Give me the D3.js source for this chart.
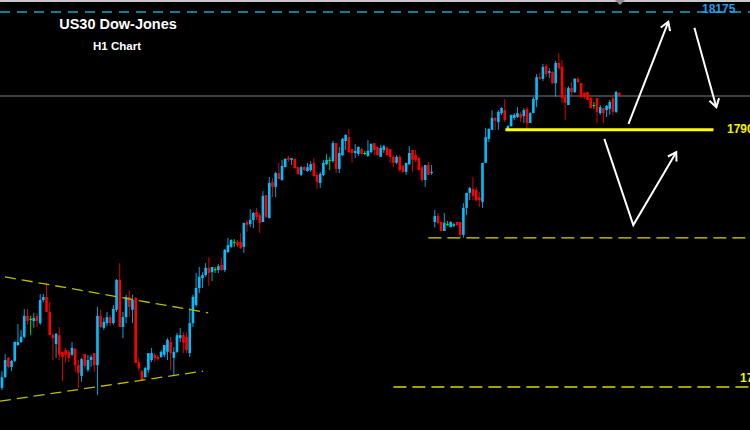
<!DOCTYPE html>
<html>
<head>
<meta charset="utf-8">
<script src="https://cdn.jsdelivr.net/npm/d3@7"></script>
<style>
  html, body { margin: 0; padding: 0; background: #000; overflow: hidden; }
  svg { display: block; }
</style>
</head>
<body>
<svg id="chart" width="750" height="430"></svg>
<script>
// US30 hourly candles (oldest first)
const opens = [
  17298,17323,17368,17347,17361,17398,17405,17417,17466,17459,
  17454,17466,17449,17503,17510,17475,17421,17400,17421,17382,
  17386,17382,17375,17389,17351,17326,17377,17340,17363,17379,
  17351,17466,17438,17449,17463,17449,17480,17550,17440,17463,
  17510,17480,17508,17358,17337,17323,17340,17363,17375,17370,
  17370,17375,17382,17405,17368,17382,17414,17421,17417,17379,
  17449,17491,17531,17554,17561,17578,17568,17575,17573,17585,
  17573,17615,17627,17638,17638,17638,17627,17685,17680,17690,
  17708,17701,17685,17748,17694,17778,17767,17799,17783,17813,
  17834,17830,17832,17813,17795,17813,17804,17806,17823,17795,
  17776,17795,17820,17830,17827,17869,17809,17841,17874,17883,
  17855,17846,17844,17855,17846,17839,17848,17869,17860,17837,
  17853,17858,17855,17837,17823,17837,17816,17802,17820,17853,
  17841,17834,17813,17783,17818,17799,17685,17699,17685,17664,
  17680,17673,17676,17685,17685,17655,17718,17753,17762,17760,
  17743,17732,17823,17879,17900,17928,17918,17939,17946,17900,
  17909,17928,17930,17937,17932,17949,17916,17939,17970,18023,
  18019,18049,18033,18035,18009,18056,18047,17977,17958,17998,
  17988,18019,18009,17986,17988,17974,17958,17974,17939,17951,
  17946,17949,17974,17942,17986
];
const highs = [
  17337,17377,17370,17363,17407,17447,17433,17482,17482,17466,
  17473,17473,17517,17517,17543,17498,17426,17426,17440,17382,
  17391,17386,17405,17391,17363,17368,17377,17375,17375,17379,
  17487,17480,17461,17475,17468,17491,17552,17589,17475,17515,
  17526,17515,17510,17368,17340,17347,17379,17391,17379,17375,
  17386,17398,17414,17417,17393,17426,17438,17428,17428,17484,
  17515,17566,17580,17568,17589,17603,17580,17580,17587,17601,
  17622,17648,17645,17645,17643,17659,17683,17690,17715,17708,
  17718,17706,17757,17748,17790,17788,17802,17823,17830,17834,
  17839,17834,17834,17813,17816,17816,17823,17827,17834,17802,
  17802,17830,17844,17837,17874,17869,17860,17881,17890,17902,
  17855,17867,17862,17858,17851,17876,17869,17869,17860,17865,
  17865,17862,17855,17841,17841,17841,17818,17823,17862,17853,
  17853,17837,17818,17818,17825,17818,17713,17706,17685,17706,
  17687,17687,17683,17685,17685,17729,17753,17767,17790,17767,
  17755,17823,17904,17904,17946,17930,17946,17953,17972,17911,
  17935,17939,17953,17942,17951,17953,17942,17977,18030,18033,
  18054,18054,18044,18037,18061,18079,18063,18000,18002,18012,
  18021,18023,18009,17988,17988,17977,17965,17974,17958,17951,
  17958,17970,17981,17991,17988
];
const lows = [
  17293,17321,17344,17337,17358,17396,17403,17414,17445,17421,
  17438,17440,17445,17498,17475,17421,17363,17368,17363,17314,
  17358,17358,17372,17335,17298,17312,17344,17335,17347,17335,
  17281,17438,17433,17442,17442,17445,17475,17440,17414,17449,
  17463,17449,17356,17337,17314,17321,17333,17358,17358,17363,
  17368,17370,17363,17340,17328,17379,17405,17379,17379,17370,
  17440,17487,17519,17531,17557,17536,17547,17566,17566,17571,
  17568,17613,17624,17627,17627,17622,17613,17662,17673,17671,
  17690,17659,17685,17694,17694,17743,17743,17785,17781,17813,
  17825,17818,17809,17795,17792,17804,17802,17802,17792,17762,
  17764,17792,17818,17806,17823,17799,17799,17839,17853,17846,
  17823,17834,17839,17841,17841,17837,17846,17841,17839,17837,
  17846,17841,17823,17813,17820,17802,17799,17795,17818,17802,
  17825,17806,17778,17767,17795,17795,17673,17680,17664,17664,
  17676,17673,17673,17676,17650,17648,17701,17736,17736,17732,
  17720,17718,17823,17872,17900,17900,17900,17935,17918,17897,
  17907,17923,17928,17918,17916,17900,17916,17939,17953,18016,
  18014,18023,18021,18007,17977,18040,17963,17923,17958,17977,
  17986,18009,17974,17972,17970,17949,17949,17916,17935,17916,
  17930,17935,17935,17939,17977
];
const closes = [
  17323,17363,17347,17361,17405,17405,17417,17466,17454,17459,
  17461,17454,17503,17510,17475,17421,17414,17424,17375,17370,
  17375,17368,17391,17351,17333,17365,17349,17363,17370,17351,
  17466,17440,17452,17463,17449,17482,17550,17440,17463,17510,
  17487,17503,17356,17344,17316,17344,17379,17379,17368,17365,
  17382,17398,17410,17379,17382,17421,17421,17403,17386,17449,
  17510,17531,17557,17561,17578,17566,17580,17575,17582,17573,
  17620,17631,17643,17638,17631,17624,17683,17678,17690,17706,
  17697,17683,17746,17697,17776,17767,17799,17785,17816,17832,
  17830,17834,17811,17797,17813,17806,17813,17820,17792,17778,
  17797,17823,17830,17830,17869,17809,17846,17879,17888,17848,
  17846,17851,17860,17844,17846,17851,17867,17853,17841,17858,
  17862,17841,17837,17823,17837,17806,17802,17823,17846,17830,
  17830,17806,17783,17818,17795,17802,17699,17683,17664,17683,
  17680,17685,17680,17678,17655,17718,17753,17764,17746,17736,
  17736,17823,17883,17902,17928,17921,17942,17951,17923,17909,
  17935,17935,17939,17928,17946,17916,17939,17972,18023,18019,
  18047,18030,18037,18009,18056,18044,17974,17963,17998,17988,
  18019,18012,17977,17977,17970,17951,17958,17942,17953,17939,
  17956,17965,17942,17988,17979
];

// Horizontal price levels and their tags
const levelPrices = [18175, 17900, 17648, 17300];
const levelLabels = ["18175", "17900", "", "17300"];
// Bar index where each level begins / ends (null = chart edge)
const levelFromBar = [null, 158.2, 134, 123];
const levelToBar = [null, 223.6, null, null];

// Triangle trend lines, as [bar index, price] anchors
const trendUpper = [[0.94, 17557], [64.8, 17473]];
const trendLower = [[-0.63, 17267], [63.2, 17337]];

// Scenario arrows, as [bar index, price] anchors
const arrowUp = [[196.9, 17914], [209.4, 18152]];
const arrowDown = [[217.6, 18138], [224.5, 17953]];
const arrowDip = [[189.3, 17879], [198.4, 17678], [211.9, 17848]];

const titleText = "US30 Dow-Jones";
const subtitleText = "H1 Chart";

const W = 750, H = 430;
const svg = d3.select("#chart");
const n = opens.length;

const x = d3.scaleLinear().domain([0, n - 1]).range([2, 619.3]);
const y = d3.scaleLinear().domain([17300, 18175]).range([387, 12]);

svg.append("rect").attr("width", W).attr("height", H).attr("fill", "#000");

// window frame strip and chart-shift marker
svg.append("rect").attr("x", 0).attr("y", 0).attr("width", W).attr("height", 2).attr("fill", "#c9c9c9");
svg.append("path").attr("d", "M615,0 L625,0 L620,5 Z").attr("fill", "#8c8c8c");

// current bid line
svg.append("line")
  .attr("x1", 0).attr("x2", W)
  .attr("y1", y(closes[n - 1])).attr("y2", y(closes[n - 1]))
  .attr("stroke", "#50555a").attr("stroke-width", 1.6);

const bars = d3.range(n).map(i => ({ i, o: opens[i], h: highs[i], l: lows[i], c: closes[i] }));
const colorOf = d => d.c > d.o ? "#00bfff" : (d.c < d.o ? "#ff0000" : "#00ff00");

const g = svg.append("g");
g.selectAll("rect.wick").data(bars).join("rect")
  .attr("class", "wick")
  .attr("x", d => x(d.i) - 0.5)
  .attr("width", 1)
  .attr("y", d => y(d.h))
  .attr("height", d => Math.max(1, y(d.l) - y(d.h)))
  .attr("fill", colorOf)
  .attr("opacity", 0.85);

g.selectAll("rect.body").data(bars).join("rect")
  .attr("class", "body")
  .attr("x", d => x(d.i) - 1.3)
  .attr("width", 2.6)
  .attr("y", d => y(Math.max(d.o, d.c)))
  .attr("height", d => Math.max(1, Math.abs(y(d.o) - y(d.c))))
  .attr("fill", colorOf);

// trend lines of the triangle
const lineGen = d3.line().x(p => x(p[0])).y(p => y(p[1]));
[trendUpper, trendLower].forEach(t => {
  svg.append("path").attr("d", lineGen(t))
    .attr("fill", "none").attr("stroke", "#bcbc00")
    .attr("stroke-width", 1.3).attr("stroke-dasharray", "11,6");
});

// price levels
levelPrices.forEach((p, k) => {
  const x1 = levelFromBar[k] == null ? 0 : x(levelFromBar[k]);
  const x2 = levelToBar[k] == null ? W : x(levelToBar[k]);
  const ln = svg.append("line")
    .attr("x1", x1).attr("x2", x2)
    .attr("y1", y(p)).attr("y2", y(p));
  if (k === 0) {
    ln.attr("stroke", "#17a6c8").attr("stroke-width", 1.3).attr("stroke-dasharray", "10,7");
  } else if (k === 1) {
    ln.attr("stroke", "#ffff00").attr("stroke-width", 3);
  } else {
    ln.attr("stroke", "#d8d800").attr("stroke-width", 1.3).attr("stroke-dasharray", "13,6");
  }
});

const labelFont = "'Liberation Sans', Arial, sans-serif";
svg.append("text").text(levelLabels[0])
  .attr("x", 702).attr("y", y(levelPrices[0]) + 1)
  .attr("font-family", labelFont).attr("font-weight", "bold").attr("font-size", 12)
  .attr("fill", "#1f9fe8");
svg.append("text").text(levelLabels[1])
  .attr("x", 727).attr("y", y(levelPrices[1]) + 3)
  .attr("font-family", labelFont).attr("font-weight", "bold").attr("font-size", 12)
  .attr("fill", "#f4f400");
svg.append("text").text(levelLabels[3])
  .attr("x", 740).attr("y", y(levelPrices[3]) - 5)
  .attr("font-family", labelFont).attr("font-weight", "bold").attr("font-size", 12)
  .attr("fill", "#f4f400");

// arrow heads
svg.append("defs").append("marker")
  .attr("id", "head").attr("markerUnits", "userSpaceOnUse")
  .attr("markerWidth", 14).attr("markerHeight", 14)
  .attr("refX", 10).attr("refY", 6).attr("orient", "auto")
  .append("path").attr("d", "M2,1 L10,6 L2,11")
  .attr("fill", "none").attr("stroke", "#fff").attr("stroke-width", 2);

[arrowUp, arrowDown, arrowDip].forEach(a => {
  svg.append("path").attr("d", lineGen(a))
    .attr("fill", "none").attr("stroke", "#ffffff").attr("stroke-width", 2)
    .attr("stroke-linejoin", "miter")
    .attr("marker-end", "url(#head)");
});

// titles
svg.append("text").text(titleText)
  .attr("x", 118).attr("y", 29).attr("text-anchor", "middle")
  .attr("font-family", labelFont).attr("font-weight", "bold").attr("font-size", 14.5)
  .attr("fill", "#ffffff");
svg.append("text").text(subtitleText)
  .attr("x", 117).attr("y", 50).attr("text-anchor", "middle")
  .attr("font-family", labelFont).attr("font-weight", "bold").attr("font-size", 11.5)
  .attr("fill", "#ffffff");
</script>
</body>
</html>
